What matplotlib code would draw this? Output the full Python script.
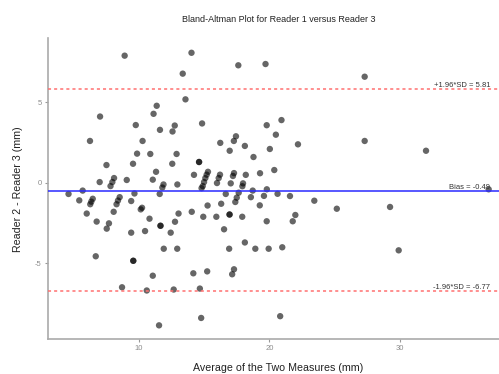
import matplotlib
matplotlib.use("Agg")
import matplotlib.pyplot as plt

# Data (average of two measures, difference Reader 2 - Reader 3)
avg = [8.94, 14.05, 13.38, 17.63, 19.71, 27.29, 13.59, 7.06, 6.29, 9.79,
       10.31, 9.89, 9.58, 7.55, 10.90, 11.39, 11.15, 11.64, 12.77, 12.60,
       14.86, 17.45, 17.29, 16.25, 16.97, 18.13, 12.91, 12.58, 14.63, 14.63,
       11.34, 11.09, 11.91, 11.82, 12.97, 14.24, 15.31, 15.21, 15.11, 15.01,
       14.91, 16.23, 16.13, 16.00, 17.30, 17.22, 17.05, 18.20, 17.99, 17.94,
       14.82, 7.03, 8.13, 8.00, 7.86, 9.10, 5.73, 4.65, 5.47, 6.50,
       6.39, 6.31, 6.04, 6.80, 8.56, 8.43, 8.32, 8.10, 7.74, 7.57,
       9.69, 9.44, 10.27, 10.17, 10.84, 9.44, 10.50, 6.73, 9.60, 9.60,
       8.74, 10.63, 11.62, 16.67, 17.66, 17.51, 17.40, 11.68, 11.68, 12.46,
       12.79, 13.06, 14.07, 15.28, 14.95, 15.95, 16.32, 16.96, 16.96, 17.93,
       16.54, 18.13, 11.93, 12.96, 16.93, 11.09, 14.19, 15.25, 17.30, 17.16,
       12.69, 14.69, 14.79, 11.57, 20.93, 19.80, 20.50, 22.19, 27.29, 31.98,
       20.04, 18.79, 19.29, 20.38, 36.77, 18.73, 18.59, 19.81, 19.59, 20.63,
       21.58, 23.44, 25.16, 19.27, 21.99, 19.80, 21.79, 18.93, 19.95, 20.99,
       20.83, 29.23, 29.89]
diff = [7.91, 8.09, 6.79, 7.31, 7.39, 6.60, 5.19, 4.12, 2.60, 3.59,
        2.60, 1.81, 1.18, 1.10, 1.79, 4.79, 4.29, 3.29, 3.56, 3.19,
        3.69, 2.89, 2.60, 2.48, 1.99, 2.29, 1.79, 1.18, 1.29, 1.29,
        0.68, 0.19, -0.11, -0.30, -0.11, 0.49, 0.68, 0.50, 0.29, 0.04,
        -0.21, 0.50, 0.29, -0.02, 0.60, 0.42, -0.04, 0.49, -0.04, -0.22,
        -0.34, 0.04, 0.29, 0.04, -0.21, 0.17, -0.49, -0.70, -1.10, -1.00,
        -1.18, -1.34, -1.92, -2.42, -0.90, -1.11, -1.34, -1.81, -2.53, -2.86,
        -0.67, -1.14, -1.56, -1.66, -2.24, -3.11, -3.01, -4.58, -4.86, -4.86,
        -6.51, -6.71, -0.70, -0.70, -0.62, -0.93, -1.20, -2.68, -2.68, -3.11,
        -2.43, -1.92, -1.81, -1.42, -2.12, -2.12, -1.31, -1.98, -1.98, -2.12,
        -2.90, -3.72, -4.11, -4.11, -4.11, -5.79, -5.64, -5.52, -5.39, -5.70,
        -6.65, -6.59, -8.42, -8.88, 3.90, 3.58, 2.99, 2.39, 2.60, 1.99,
        2.10, 1.60, 0.59, 0.79, -0.41, -0.49, -0.90, -0.41, -0.82, -0.69,
        -0.83, -1.12, -1.62, -1.41, -2.01, -2.40, -2.40, -4.11, -4.11, -4.02,
        -8.31, -1.51, -4.21]

bias = -0.49
upper = 5.81
lower = -6.77
labels = ["+1.96*SD = 5.81", "Bias = -0.49", "-1.96*SD = -6.77"]
xticks = [10, 20, 30]
yticks = [-5, 0, 5]

plt.rcParams['font.family'] = ['Liberation Sans', 'DejaVu Sans']

fig = plt.figure(figsize=(4.99, 3.74), dpi=100)
ax = fig.add_axes([48/499, 1-339/374, 451/499, 301/374])

ax.scatter(avg, diff, s=21, color='black', alpha=0.6, edgecolors='none', zorder=2)
ax.axhline(bias, color='#2a2aff', lw=1.1, zorder=3)
ax.axhline(upper, color='#ff7070', lw=1.1, ls=(0, (2, 2)), zorder=3)
ax.axhline(lower, color='#ff7070', lw=1.1, ls=(0, (2, 2)), zorder=3)

xt = 36.9
ax.text(xt, upper, labels[0], ha='right', va='bottom', fontsize=5.5, color='#333333', zorder=4)
ax.text(xt, bias, labels[1], ha='right', va='bottom', fontsize=5.5, color='#333333', zorder=4)
ax.text(xt, lower, labels[2], ha='right', va='bottom', fontsize=5.5, color='#333333', zorder=4)

ax.set_xlim(3.08, 37.56)
ax.set_ylim(-9.73, 9.01)
ax.set_xticks(xticks)
ax.set_yticks(yticks)
ax.set_xticklabels([str(t) for t in xticks])
ax.set_yticklabels([str(t) for t in yticks])
ax.tick_params(axis='both', colors='#999999', labelcolor='#8c8c8c', labelsize=5.5,
               length=2.5, width=0.8, pad=2)
for s in ['top', 'right']:
    ax.spines[s].set_visible(False)
for s in ['left', 'bottom']:
    ax.spines[s].set_color('#aaaaaa')
    ax.spines[s].set_linewidth(1.2)

fig.text(279/499, 1-20/374, "Bland-Altman Plot for Reader 1 versus Reader 3",
         ha='center', va='center', fontsize=6.5, color='#222222')
fig.text(278.5/499, 1-368/374, "Average of the Two Measures (mm)",
         ha='center', va='center', fontsize=7.7, color='#222222')
fig.text(18/499, 1-189/374, "Reader 2 - Reader 3 (mm)", rotation=90,
         ha='center', va='center', fontsize=7.7, color='#222222')

fig.savefig("out.png", dpi=100)
